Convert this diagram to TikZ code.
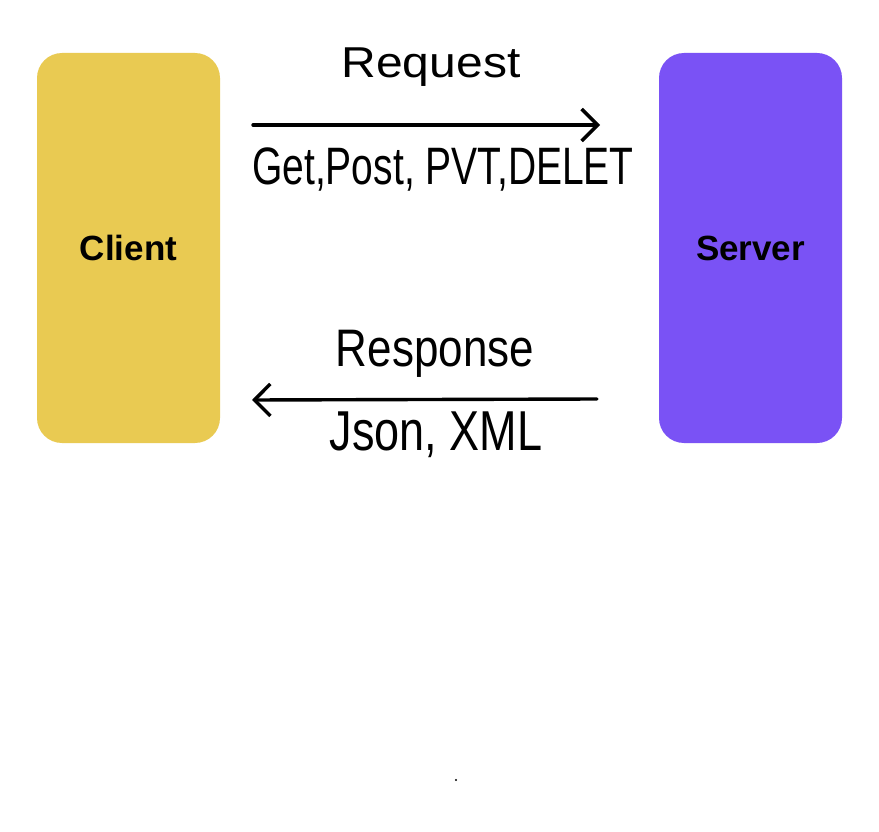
\documentclass[tikz,border=0pt]{standalone}
\usepackage{fontspec}
\usepackage{graphicx}
\setmainfont{Liberation Sans}
\usetikzlibrary{arrows.meta}
\definecolor{clientyellow}{RGB}{233,202,82}
\definecolor{serverpurple}{RGB}{122,82,245}
\tikzset{
  endbox/.style={rounded corners=25pt, minimum width=183pt, minimum height=390pt, inner sep=0pt, draw=none, font=\fontsize{35}{36}\selectfont\bfseries},
  hand/.style={inner sep=0pt},
  flow/.style={line width=3.4pt, line cap=round, -{Straight Barb[length=16pt,width=32pt,line width=3.4pt]}}
}
\newcommand{\handtext}[3]{\scalebox{1}[#2]{\fontsize{#1}{#1}\selectfont #3}}
\begin{document}
\begin{tikzpicture}[x=1pt,y=-1pt]
\useasboundingbox (0,0) rectangle (879,832);
\fill[white] (0,0) rectangle (879,832);
\node[endbox, fill=clientyellow] (client) at (128.5,248) {Client};
\node[endbox, fill=serverpurple] (server) at (750.5,248) {Server};
\coordinate (reqstart) at (253,125);
\coordinate (reqend) at (600,125);
\coordinate (resstart) at (597,399);
\coordinate (resend) at (252,400);
\draw[flow] (reqstart) -- (reqend);
\draw[flow] (resstart) -- (resend);
\node[hand, anchor=base] (reqlabel) at (431,78) {\handtext{48}{0.9}{Request}};
\node[hand, anchor=base] (reqmethods) at (443,185) {\handtext{39}{1.35}{Get,Post, PVT,DELET}};
\node[hand, anchor=base] (reslabel) at (435,366) {\handtext{44}{1.2}{Response}};
\node[hand, anchor=base] (resformats) at (436,450) {\handtext{45}{1.25}{Json, XML}};
\fill[black] (456,780) circle (1.2pt);
\end{tikzpicture}
\end{document}
